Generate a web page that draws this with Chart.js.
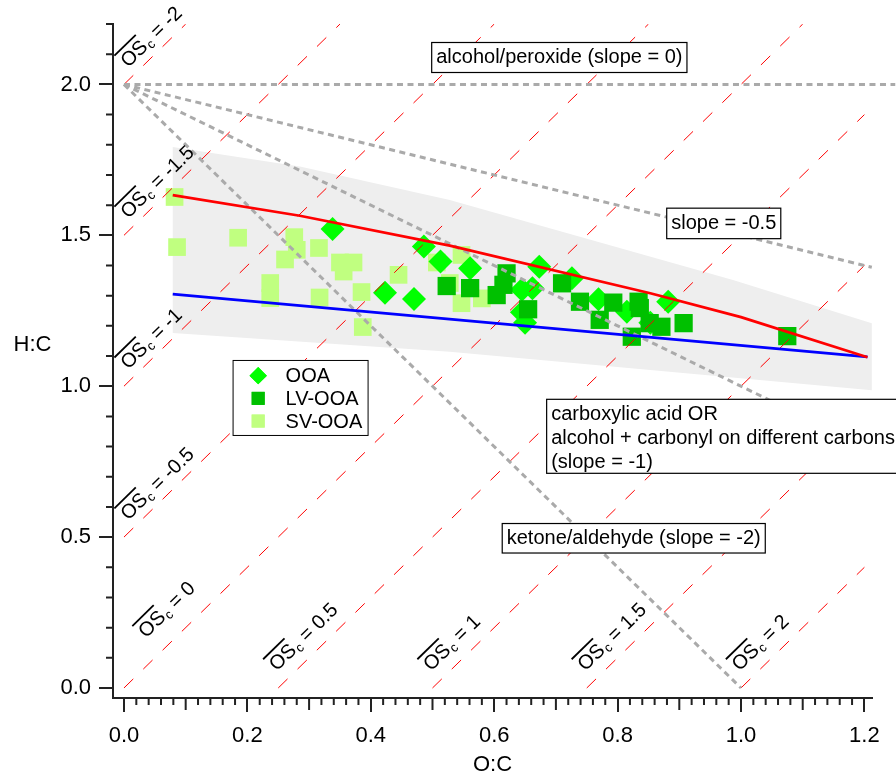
<!DOCTYPE html>
<html>
<head>
<meta charset="utf-8">
<script src="https://cdn.jsdelivr.net/npm/chart.js@4.4.0/dist/chart.umd.min.js"></script>
<style>
  html, body { margin: 0; padding: 0; background: #fff; }
  #wrap { width: 896px; height: 775px; }
</style>
</head>
<body>
<div id="wrap"><canvas id="vk" width="896" height="775"></canvas></div>
<script>
// O:C (x) and H:C (y) of each factor
const ooaOC = [0.338, 0.486, 0.513, 0.423, 0.470, 0.561, 0.673, 0.645, 0.662, 0.645, 0.650, 0.726, 0.769, 0.815, 0.882, 0.853];
const ooaHC = [1.521, 1.463, 1.413, 1.310, 1.289, 1.391, 1.396, 1.320, 1.325, 1.245, 1.210, 1.358, 1.288, 1.247, 1.280, 1.210];

const lvOC = [0.523, 0.620, 0.615, 0.561, 0.604, 0.655, 0.710, 0.739, 0.771, 0.793, 0.834, 0.823, 0.852, 0.871, 0.907, 0.836, 1.075];
const lvHC = [1.332, 1.374, 1.336, 1.325, 1.302, 1.255, 1.341, 1.280, 1.220, 1.277, 1.280, 1.164, 1.209, 1.197, 1.209, 1.259, 1.166];

const svOC = [0.082, 0.086, 0.185, 0.276, 0.280, 0.261, 0.316, 0.237, 0.237, 0.317, 0.350, 0.372, 0.356, 0.445, 0.385, 0.387, 0.507, 0.528, 0.547, 0.547, 0.580];
const svHC = [1.627, 1.461, 1.492, 1.494, 1.452, 1.420, 1.458, 1.342, 1.292, 1.294, 1.410, 1.410, 1.380, 1.369, 1.312, 1.196, 1.410, 1.342, 1.435, 1.275, 1.291];

// shaded band (upper edge left->right, lower edge right->left)
const bandOC = [0.079, 0.285, 0.528, 0.987, 1.212, 1.212, 0.853, 0.528, 0.079];
const bandHC = [1.793, 1.728, 1.617, 1.352, 1.209, 0.987, 1.054, 1.114, 1.176];

// red and blue fit lines
const redOC = [0.079, 0.285, 0.528, 0.853, 1.000, 1.205];
const redHC = [1.633, 1.565, 1.466, 1.308, 1.229, 1.096];
const blueOC = [0.079, 1.205];
const blueHC = [1.305, 1.097];

// average carbon oxidation state isolines: H:C = 2*O:C - OSc
const osLevels = [-2, -1.5, -1, -0.5, 0, 0.5, 1, 1.5, 2];
const osLabels = ['-2', '-1.5', '-1', '-0.5', '0', '0.5', '1', '1.5', '2'];

// functional group addition lines from (0, 2)
const slopeValues = [0, -0.5, -1, -2];
const slopeEndOC = [1.25, 1.212, 1.2, 1.0];

const xTickValues = [0, 0.2, 0.4, 0.6, 0.8, 1.0, 1.2];
const yTickValues = [0, 0.5, 1.0, 1.5, 2.0];

const FONT = '"Liberation Sans", Arial, sans-serif';
const axisColor = '#222';
Chart.defaults.font.family = FONT;

const pts = (xs, ys) => xs.map((x, i) => ({ x: x, y: ys[i] }));

const datasets = [];

datasets.push({
  data: pts(bandOC, bandHC), showLine: true, fill: 'shape',
  backgroundColor: '#eeeeee', borderWidth: 0, pointRadius: 0, order: 20
});
datasets.push({
  data: pts(svOC, svHC), pointStyle: 'rect', pointRadius: 12.5,
  backgroundColor: '#c0ff80', borderWidth: 0, order: 19
});
datasets.push({
  data: pts(ooaOC, ooaHC), pointStyle: 'rectRot', pointRadius: 12,
  backgroundColor: '#00ff00', borderWidth: 0, order: 18
});
datasets.push({
  data: pts(lvOC, lvHC), pointStyle: 'rect', pointRadius: 12.9,
  backgroundColor: '#00c000', borderWidth: 0, order: 17
});

osLevels.forEach(lvl => {
  const x0 = Math.max(0, lvl / 2);
  let x1 = 1.2;
  if (2 * x1 - lvl > 2.2) x1 = (2.2 + lvl) / 2;
  datasets.push({
    data: [{ x: x0, y: 2 * x0 - lvl }, { x: x1, y: 2 * x1 - lvl }],
    showLine: true, borderColor: '#ff0000', borderWidth: 1, borderDash: [13, 14],
    pointRadius: 0, fill: false, order: 10
  });
});

slopeValues.forEach((s, i) => {
  datasets.push({
    data: [{ x: 0, y: 2 }, { x: slopeEndOC[i], y: 2 + s * slopeEndOC[i] }],
    showLine: true, borderColor: '#aaaaaa', borderWidth: 3, borderDash: [6, 4.5],
    pointRadius: 0, fill: false, clip: false, order: 9
  });
});

datasets.push({
  data: pts(redOC, redHC), showLine: true, borderColor: '#ff0000', borderWidth: 2.7,
  pointRadius: 0, fill: false, order: 5
});
datasets.push({
  data: pts(blueOC, blueHC), showLine: true, borderColor: '#0000ff', borderWidth: 2.7,
  pointRadius: 0, fill: false, order: 5
});

// extra tick marks, titles, labelled boxes, OSc labels and the legend
const decorations = {
  id: 'decorations',
  afterDraw(chart) {
    const { ctx, scales: { x, y } } = chart;

    // minor / medium ticks
    ctx.save();
    ctx.strokeStyle = axisColor;
    ctx.lineWidth = 2;
    ctx.beginPath();
    for (let i = 1; i <= 60; i++) {
      if (i % 10 === 0) continue;
      const px = x.getPixelForValue(i * 0.02);
      const len = i % 5 === 0 ? 12 : 7;
      ctx.moveTo(px, x.top); ctx.lineTo(px, x.top + len);
    }
    for (let i = 1; i <= 22; i++) {
      if (i % 5 === 0) continue;
      const py = y.getPixelForValue(i * 0.1);
      ctx.moveTo(y.right, py); ctx.lineTo(y.right - 7, py);
    }
    ctx.stroke();

    // axis titles
    ctx.fillStyle = '#000';
    ctx.font = '22px ' + FONT;
    ctx.textAlign = 'center';
    ctx.textBaseline = 'middle';
    ctx.fillText('O:C', (x.left + x.right) / 2, 765);
    ctx.fillText('H:C', 32.5, 344.5);
    ctx.restore();

    // OSc labels along the isolines
    const ang = Math.atan2(y.getPixelForValue(2) - y.getPixelForValue(0),
                           x.getPixelForValue(1) - x.getPixelForValue(0));
    osLevels.forEach((lvl, i) => {
      let ax, ay;
      if (lvl < 0) { ax = -0.003; ay = -lvl + 0.07; }
      else if (lvl === 0) { ax = 0.026; ay = 0.18; }
      else { ax = lvl / 2 - 0.012; ay = 0.07; }
      drawOs(ctx, x.getPixelForValue(ax) + 6, y.getPixelForValue(ay) + 5, ang, osLabels[i]);
    });

    // text boxes
    drawBox(ctx, ['alcohol/peroxide (slope = 0)'], x.getPixelForValue(0.4987), y.getPixelForValue(2.139), 30);
    drawBox(ctx, ['slope = -0.5'], x.getPixelForValue(0.8796), y.getPixelForValue(1.590), 30.5);
    drawBox(ctx, ['carboxylic acid OR', 'alcohol + carbonyl on different carbons', '(slope = -1)'],
            x.getPixelForValue(0.685), y.getPixelForValue(0.9566), 74);
    drawBox(ctx, ['ketone/aldehyde (slope = -2)'], x.getPixelForValue(0.613), y.getPixelForValue(0.545), 29.5);

    // legend
    const lx = x.getPixelForValue(0.176), ly = y.getPixelForValue(1.087);
    ctx.save();
    ctx.fillStyle = '#fff';
    ctx.fillRect(lx, ly, 135, 75);
    ctx.strokeStyle = '#000';
    ctx.lineWidth = 1;
    ctx.strokeRect(lx + 0.5, ly + 0.5, 135, 75);
    const rows = [
      { name: 'OOA', style: 'rectRot', r: 8.7, color: '#00ff00' },
      { name: 'LV-OOA', style: 'rect', r: 9.2, color: '#00c000' },
      { name: 'SV-OOA', style: 'rect', r: 9.2, color: '#c0ff80' }
    ];
    ctx.font = '20px ' + FONT;
    ctx.textAlign = 'left';
    ctx.textBaseline = 'middle';
    rows.forEach((row, i) => {
      const cy = ly + 15.7 + i * 22.7;
      ctx.fillStyle = row.color;
      Chart.helpers.drawPoint(ctx, { pointStyle: row.style, radius: row.r, borderWidth: 0, rotation: 0 }, lx + 25.6, cy);
      ctx.fill();
      ctx.fillStyle = '#000';
      ctx.fillText(row.name, lx + 53, cy + 1);
    });
    ctx.restore();
  }
};

function drawOs(ctx, px, py, angle, valueText) {
  ctx.save();
  ctx.translate(px, py);
  ctx.rotate(angle);
  ctx.fillStyle = '#000';
  ctx.textAlign = 'left';
  ctx.textBaseline = 'alphabetic';
  ctx.font = '20px ' + FONT;
  const osW = ctx.measureText('OS').width;
  ctx.fillText('OS', 0, 0);
  ctx.fillRect(-1, -19.5, osW + 1, 1.8);
  ctx.font = '13px ' + FONT;
  ctx.fillText('c', osW + 1, 3);
  const cW = ctx.measureText('c').width;
  ctx.font = '20px ' + FONT;
  ctx.fillText(' = ' + valueText, osW + cW + 1, 0);
  ctx.restore();
}

function drawBox(ctx, lines, left, top, height) {
  ctx.save();
  ctx.font = '20px ' + FONT;
  let w = 0;
  lines.forEach(t => { w = Math.max(w, ctx.measureText(t).width); });
  const width = w + 9;
  ctx.fillStyle = '#fff';
  ctx.fillRect(left, top, width, height);
  ctx.strokeStyle = '#000';
  ctx.lineWidth = 1.2;
  ctx.strokeRect(left, top, width, height);
  ctx.fillStyle = '#000';
  ctx.textAlign = 'left';
  ctx.textBaseline = 'middle';
  lines.forEach((t, i) => ctx.fillText(t, left + 4.5, top + 15 + i * 24));
  ctx.restore();
}

new Chart(document.getElementById('vk'), {
  type: 'scatter',
  data: { datasets: datasets },
  options: {
    responsive: false,
    animation: false,
    events: [],
    layout: { padding: { left: 0, right: 24, top: 24, bottom: 0 } },
    plugins: { legend: { display: false }, tooltip: { enabled: false } },
    scales: {
      x: {
        type: 'linear', min: -0.0178, max: 1.2123,
        afterBuildTicks: s => { s.ticks = xTickValues.map(v => ({ value: v })); },
        afterFit: s => { s.height = 77; },
        grid: { drawOnChartArea: false, drawTicks: true, tickLength: 14, color: axisColor, lineWidth: 2 },
        border: { display: true, color: axisColor, width: 2 },
        ticks: { color: '#000', font: { size: 22 }, padding: 11, maxRotation: 0,
                 callback: v => Number(v).toFixed(1) }
      },
      y: {
        type: 'linear', min: -0.0332, max: 2.2003,
        afterBuildTicks: s => { s.ticks = yTickValues.map(v => ({ value: v })); },
        afterFit: s => { s.width = 113; },
        grid: { drawOnChartArea: false, drawTicks: true, tickLength: 14, color: axisColor, lineWidth: 2 },
        border: { display: true, color: axisColor, width: 2 },
        ticks: { color: '#000', font: { size: 22 }, padding: 8,
                 callback: v => Number(v).toFixed(1) }
      }
    }
  },
  plugins: [decorations]
});
</script>
</body>
</html>
